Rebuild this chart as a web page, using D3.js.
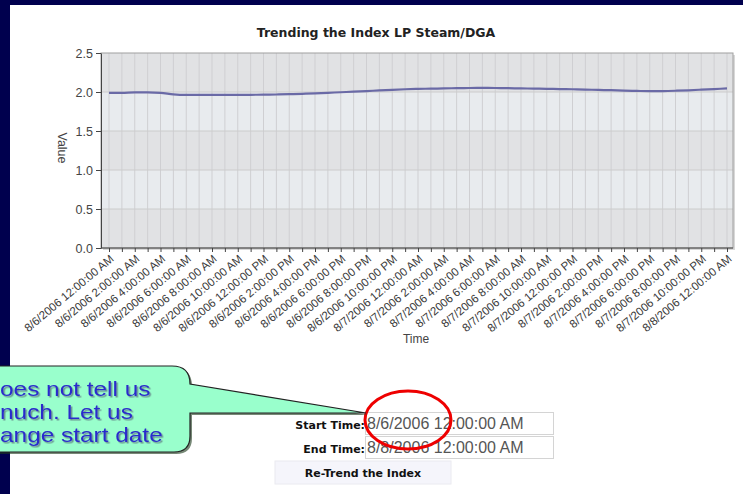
<!DOCTYPE html>
<html lang="en">
<head>
<meta charset="UTF-8">
<title>Trending the Index</title>
<script src="https://d3js.org/d3.v7.min.js"></script>
<style>
  body { margin: 0; background: #fff; }
  svg { display: block; }
</style>
</head>
<body>
<svg width="743" height="494"></svg>
<script>
// chart data (one value per hour)
const startTime = new Date(2006, 7, 6, 0, 0, 0);
const endTime = new Date(2006, 7, 8, 0, 0, 0);
const values = [
  1.99, 1.99, 1.995, 1.995, 1.99, 1.97, 1.963, 1.963, 1.963, 1.963,
  1.963, 1.964, 1.966, 1.968, 1.972, 1.977, 1.983, 1.99, 1.997, 2.004,
  2.012, 2.02, 2.028, 2.035, 2.04, 2.043, 2.046, 2.049, 2.051, 2.052,
  2.051, 2.049, 2.046, 2.044, 2.041, 2.038, 2.035, 2.031, 2.027, 2.023,
  2.018, 2.014, 2.011, 2.012, 2.016, 2.022, 2.03, 2.038, 2.046
];
const yTicks = [0, 0.5, 1.0, 1.5, 2.0, 2.5];
const calloutLines = ["oes not tell us", "nuch.  Let us", "ange start date"];
const startLabel = "8/6/2006 12:00:00 AM";
const endLabel = "8/8/2006 12:00:00 AM";

const svg = d3.select("svg");
const navy = "#00004e";

const defs = svg.append("defs");
defs.append("filter").attr("id", "tshadow").attr("x", "-5%").attr("y", "-20%").attr("width", "115%").attr("height", "150%")
  .append("feDropShadow").attr("dx", 1.5).attr("dy", 1.5).attr("stdDeviation", 0.4)
  .attr("flood-color", "#556677").attr("flood-opacity", 0.7);

// slide frame
svg.append("rect").attr("x", 0).attr("y", 0).attr("width", 743).attr("height", 5).attr("fill", navy);
svg.append("rect").attr("x", 0).attr("y", 0).attr("width", 10).attr("height", 494).attr("fill", navy);

const pLeft = 101, pRight = 733, pTop = 53, pBottom = 248;

const x = d3.scaleTime().domain([startTime, endTime]).range([109, 727]);
const y = d3.scaleLinear().domain([0, 2.5]).range([pBottom, pTop]);

const data = values.map((v, i) => ({ t: d3.timeHour.offset(startTime, i), v }));
const hourTicks = d3.timeHour.range(startTime, d3.timeHour.offset(endTime, 1));
const labelTicks = d3.timeHour.every(2).range(startTime, d3.timeHour.offset(endTime, 1));
const fmt = d3.timeFormat("%-m/%-d/%Y %-I:%M:%S %p");

// plot shadow + background bands
svg.append("rect").attr("x", pLeft + 2).attr("y", pTop + 2).attr("width", pRight - pLeft).attr("height", pBottom - pTop)
  .attr("fill", "#d8d8d8");
const bands = d3.pairs(yTicks);
svg.append("g").selectAll("rect").data(bands).join("rect")
  .attr("x", pLeft).attr("width", pRight - pLeft)
  .attr("y", d => y(d[1])).attr("height", d => y(d[0]) - y(d[1]))
  .attr("fill", (d, i) => i % 2 === 0 ? "#e1e2e4" : "#e8ebee");

// grid
svg.append("g").selectAll("line").data(hourTicks).join("line")
  .attr("x1", d => x(d)).attr("x2", d => x(d)).attr("y1", pTop).attr("y2", pBottom)
  .attr("stroke", "#cfcfd2").attr("stroke-width", 1);
svg.append("g").selectAll("line").data(yTicks.slice(1, -1)).join("line")
  .attr("x1", pLeft).attr("x2", pRight).attr("y1", d => y(d)).attr("y2", d => y(d))
  .attr("stroke", "#cccccc");

svg.append("rect").attr("x", pLeft).attr("y", pTop).attr("width", pRight - pLeft).attr("height", pBottom - pTop)
  .attr("fill", "none").attr("stroke", "#a0a0a0");

// y axis
const yAxis = svg.append("g").attr("transform", `translate(${pLeft},0)`)
  .call(d3.axisLeft(y).tickValues(yTicks).tickFormat(d3.format(".1f")).tickSize(5).tickSizeOuter(0));
yAxis.select(".domain").attr("stroke", "#444");
yAxis.selectAll(".tick line").attr("stroke", "#444");
yAxis.selectAll("text").attr("font-family", "Arial, 'Liberation Sans'").attr("font-size", 12.5)
  .attr("fill", "#444").attr("x", -8);

// x axis
const xAxis = svg.append("g").attr("transform", `translate(0,${pBottom})`)
  .call(d3.axisBottom(x).tickValues(hourTicks).tickFormat("").tickSize(4).tickSizeOuter(0));
xAxis.select(".domain").attr("stroke", "#444").attr("d", `M${pLeft},0H${pRight}`);
xAxis.selectAll(".tick line").attr("stroke", "#444");

svg.append("g").selectAll("text").data(labelTicks).join("text")
  .attr("transform", d => `translate(${x(d) + 3},${pBottom + 9}) rotate(-40)`)
  .attr("text-anchor", "end").attr("dy", "0.35em")
  .attr("font-family", "Arial, 'Liberation Sans'").attr("font-size", 11.5).attr("fill", "#3a3a3a")
  .text(d => fmt(d));

// axis titles
svg.append("text").attr("transform", "translate(58,148) rotate(90)").attr("text-anchor", "middle")
  .attr("font-family", "Arial, 'Liberation Sans'").attr("font-size", 12.5).attr("fill", "#444").text("Value");
svg.append("text").attr("x", 416).attr("y", 343).attr("text-anchor", "middle")
  .attr("font-family", "Arial, 'Liberation Sans'").attr("font-size", 12).attr("fill", "#444").text("Time");

svg.append("text").attr("x", 376).attr("y", 37).attr("text-anchor", "middle")
  .attr("font-family", "'DejaVu Sans', Verdana").attr("font-weight", "bold").attr("font-size", 12.5)
  .attr("fill", "#222").text("Trending the Index LP Steam/DGA");

// the line
svg.append("path").datum(data)
  .attr("fill", "none").attr("stroke", "#6a6aa6").attr("stroke-width", 2.2)
  .attr("d", d3.line().x(d => x(d.t)).y(d => y(d.v)).curve(d3.curveMonotoneX));

// form below the chart
const form = svg.append("g").attr("font-family", "'DejaVu Sans', Verdana");
form.append("text").attr("x", 365).attr("y", 429).attr("text-anchor", "end")
  .attr("font-weight", "bold").attr("font-size", 11).attr("fill", "#111").text("Start Time:");
form.append("text").attr("x", 365).attr("y", 453).attr("text-anchor", "end")
  .attr("font-weight", "bold").attr("font-size", 11).attr("fill", "#111").text("End Time:");
[[412, startLabel], [436, endLabel]].forEach(([yy, label]) => {
  form.append("rect").attr("x", 365.5).attr("y", yy + 0.5).attr("width", 188).attr("height", 22)
    .attr("fill", "#fff").attr("stroke", "#d4d4d4");
  form.append("text").attr("x", 367).attr("y", yy + 17)
    .attr("font-family", "Arial, 'Liberation Sans'").attr("font-size", 16).attr("fill", "#555").text(label);
});
form.append("rect").attr("x", 275).attr("y", 461).attr("width", 176).attr("height", 23)
  .attr("fill", "#f5f5fb").attr("stroke", "#eaeaf0");
form.append("text").attr("x", 363).attr("y", 477).attr("text-anchor", "middle")
  .attr("font-weight", "bold").attr("font-size", 11).attr("fill", "#111").text("Re-Trend the Index");

// red ellipse
svg.append("ellipse").attr("cx", 408).attr("cy", 420).attr("rx", 43).attr("ry", 29)
  .attr("fill", "none").attr("stroke", "#ee0000").attr("stroke-width", 3);

// callout bubble
const bubble = "M-20,366 H172 Q190,366 190,384 L366,413 L190,413 V436 Q190,452 174,452 H-20 Z";
svg.append("path").attr("d", bubble).attr("transform", "translate(2,2)").attr("fill", "#1d3a1d").attr("opacity", 0.6);
svg.append("path").attr("d", bubble).attr("fill", "#99ffcc").attr("stroke", "#222").attr("stroke-width", 1.2);
svg.append("g").attr("font-family", "Arial, 'Liberation Sans'").attr("font-size", 20)
  .attr("filter", "url(#tshadow)").style("white-space", "pre")
  .selectAll("text").data(calloutLines).join("text")
  .attr("transform", (d, i) => `translate(0,${396 + i * 23}) scale(1.22,1)`)
  .attr("fill", "#2b2bcc").text(d => d);
</script>
</body>
</html>
